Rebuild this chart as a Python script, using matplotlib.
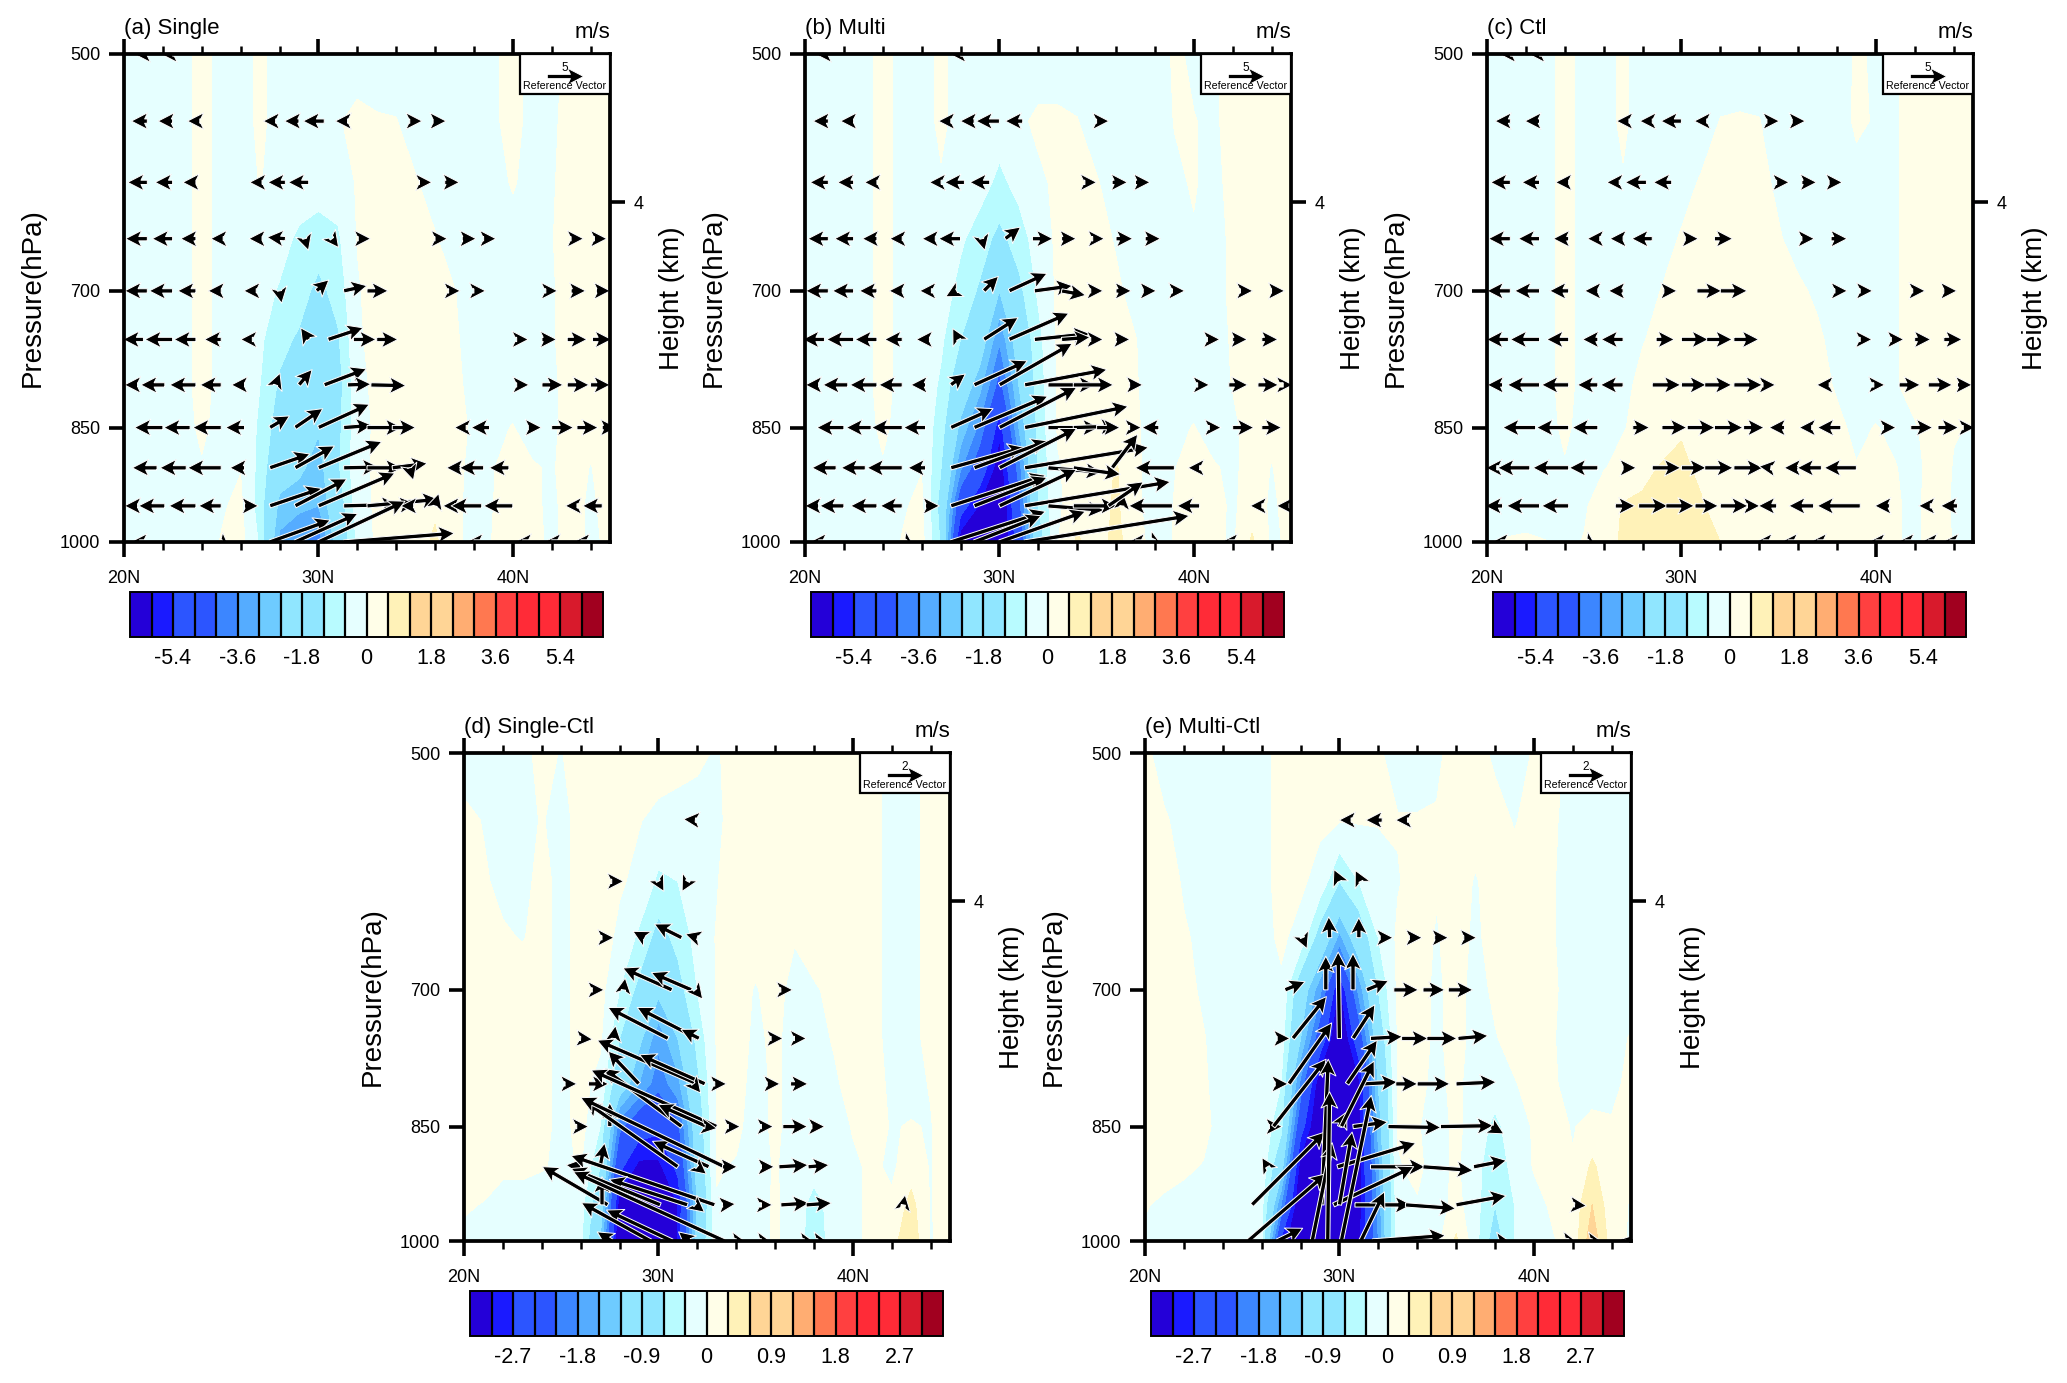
import numpy as np
import matplotlib
matplotlib.use("Agg")
import matplotlib.pyplot as plt
from matplotlib.colors import ListedColormap, BoundaryNorm
from matplotlib.patches import Rectangle
from matplotlib.ticker import NullLocator

plt.rcParams['font.family'] = ['Liberation Sans', 'DejaVu Sans']

lats = list(range(20, 46))
plevs = [500, 550, 600, 650, 700, 750, 800, 850, 900, 950, 1000]

field_a = [
 [-.3,-.3,-.3,-.2,.2,-.2,-.2,.1,-.2,-.3,-.3,-.3,-.3,-.3,-.3,-.3,-.3,-.3,-.3,-.1,.2,-.2,-.2,.2,.2,.2],
 [-.3,-.3,-.3,-.2,.2,-.2,-.2,.1,-.2,-.3,-.3,-.05,.15,.05,.02,-.3,-.3,-.3,-.3,-.1,.2,-.2,-.1,.2,.2,.2],
 [-.3,-.3,-.3,-.2,.2,-.2,-.2,.02,-.2,-.3,-.35,-.3,.05,.2,.2,.05,-.3,-.3,-.3,-.2,.05,-.2,-.05,.2,.2,.2],
 [-.3,-.3,-.3,-.2,.2,-.2,-.2,-.2,-.4,-.7,-.85,-.7,.02,.2,.2,.2,.05,-.3,-.3,-.3,-.2,-.2,-.02,.2,.2,.2],
 [-.3,-.3,-.3,-.2,.2,-.2,-.2,-.4,-.65,-.9,-1.4,-.95,-.05,.2,.2,.2,.2,.02,-.3,-.3,-.2,-.2,-.05,.2,.2,.2],
 [-.3,-.3,-.3,-.2,.2,-.2,-.2,-.5,-1.0,-1.3,-1.6,-1.3,-.1,.2,.2,.2,.2,.1,-.3,-.3,-.2,-.2,-.05,.2,.2,.2],
 [-.3,-.3,-.3,-.2,.2,-.2,-.2,-.6,-1.3,-1.5,-2.0,-1.5,-.2,.15,.2,.2,.2,.15,-.2,-.3,-.2,-.2,-.1,.2,.2,.2],
 [-.3,-.3,-.3,-.2,.1,-.2,-.2,-.7,-1.6,-1.9,-2.3,-1.4,-.25,.1,.2,.2,.2,.2,-.1,-.1,.02,-.2,-.1,.2,.15,.2],
 [-.3,-.3,-.3,-.2,-.05,-.2,-.02,-.8,-2.0,-2.2,-2.8,-1.3,-.2,.1,.2,.2,.3,.2,-.2,-.02,.2,.05,-.05,.2,-.02,.2],
 [-.3,-.3,-.3,-.3,-.2,-.05,.1,-.9,-2.6,-2.9,-3.0,-1.7,-.3,.1,.2,.3,.5,.2,-.3,.0,.2,.1,-.1,.2,-.1,.2],
 [-.3,-.3,-.3,-.3,-.2,.02,.2,-.7,-3.2,-3.4,-4.0,-2.0,-.5,.1,.2,.35,.7,.15,-.2,.02,.2,.15,-.1,.2,-.1,.1],
]
field_b = [
 [-.3,-.3,-.3,-.2,.2,-.2,-.2,.1,-.2,-.3,-.3,-.3,-.3,-.3,-.3,-.3,-.3,-.3,-.4,.1,-.1,-.1,.2,.2,.2,.2],
 [-.3,-.3,-.3,-.2,.2,-.2,-.2,.1,-.2,-.3,-.3,-.1,.1,.1,.02,-.3,-.3,-.3,-.3,.02,.02,-.1,.2,.2,.2,.2],
 [-.3,-.3,-.3,-.2,.2,-.2,-.2,-.05,-.3,-.35,-.75,-.4,-.1,.1,.2,.05,-.3,-.3,-.3,-.1,.05,-.2,.2,.2,.2,.2],
 [-.3,-.3,-.3,-.2,.2,-.2,-.2,-.2,-.5,-.9,-1.4,-.9,-.3,.1,.2,.2,-.05,-.3,-.3,-.3,-.05,-.2,.1,.2,.2,.2],
 [-.3,-.3,-.3,-.2,.2,-.2,-.2,-.3,-.8,-1.3,-2.4,-1.4,-.5,.1,.2,.2,.1,-.2,-.3,-.3,-.2,-.2,.1,.2,.2,.2],
 [-.3,-.3,-.3,-.2,.2,-.2,-.2,-.5,-1.2,-1.9,-3.5,-1.9,-.8,.1,.2,.2,.2,.02,-.3,-.3,-.2,-.2,.05,.2,.2,.2],
 [-.3,-.3,-.3,-.2,.2,-.2,-.2,-.7,-1.8,-2.8,-4.5,-2.4,-.9,.05,.2,.2,.2,.05,-.3,-.3,-.2,-.2,.02,.2,.2,.2],
 [-.3,-.3,-.3,-.2,.1,-.2,-.2,-.9,-2.6,-3.8,-5.8,-3.0,-1.0,.05,.2,.2,.2,.1,-.3,-.1,.02,-.2,-.1,.2,.1,.2],
 [-.3,-.3,-.3,-.2,-.05,-.2,-.02,-1.2,-3.5,-4.8,-6.5,-3.9,-1.1,-.05,.2,.2,.65,.15,-.3,-.02,.2,.05,-.1,.2,-.02,.2],
 [-.3,-.3,-.3,-.3,-.2,-.05,.1,-1.5,-5.0,-6.1,-7.0,-4.5,-1.2,-.1,.3,.3,.7,.15,-.3,.02,.2,.2,-.1,.3,-.1,.2],
 [-.3,-.3,-.3,-.3,-.2,.02,.2,-1.3,-6.5,-7.0,-7.0,-5.0,-1.7,-.02,.7,.3,.8,.2,-.2,.02,.2,.15,-.1,.7,-.1,.1],
]
field_c = [
 [-.3,-.3,-.3,-.2,.2,-.2,-.4,.2,-.5,-.3,-.3,-.3,-.3,-.3,-.3,-.3,-.3,-.3,-.4,.1,-.1,-.05,.2,.2,.2,.2],
 [-.3,-.3,-.3,-.2,.2,-.2,-.4,.2,-.5,-.3,-.3,-.3,.02,.05,.02,-.3,-.3,-.3,-.3,.1,-.05,-.05,.2,.2,.2,.2],
 [-.3,-.3,-.3,-.2,.2,-.2,-.2,-.1,-.2,-.3,-.2,.05,.2,.2,.15,-.1,-.3,-.3,-.3,-.2,-.2,-.05,.2,.2,.2,.2],
 [-.3,-.3,-.3,-.2,.2,-.2,-.2,-.2,-.2,-.2,.05,.2,.2,.2,.2,.05,-.2,-.3,-.3,-.2,-.2,-.05,.2,.2,.2,.2],
 [-.3,-.3,-.3,-.2,.2,-.2,-.2,-.3,-.2,.02,.2,.2,.2,.2,.2,.2,.1,-.1,-.3,-.2,-.2,-.05,.2,.2,.2,.2],
 [-.3,-.3,-.3,-.2,.2,-.2,-.2,-.3,-.02,.1,.2,.2,.2,.2,.2,.2,.2,.1,-.2,-.2,-.2,-.05,.2,.2,.2,.2],
 [-.3,-.3,-.3,-.2,.2,-.2,-.2,-.1,.1,.2,.2,.2,.2,.2,.2,.2,.2,.15,-.05,-.3,-.2,-.05,.2,.2,.2,.2],
 [-.3,-.3,-.3,-.2,.1,-.2,-.2,-.02,.1,.3,.55,.2,.2,.2,.2,.2,.2,.2,.1,-.1,.02,-.1,-.05,.2,.02,-.02],
 [-.3,-.3,-.3,-.2,-.05,-.2,-.02,.1,.45,.65,.7,.5,.2,.2,.2,.2,.2,.2,.2,.02,.2,.02,-.15,.2,-.02,-.2],
 [-.3,-.3,-.3,-.3,-.2,-.05,.2,.65,.7,.75,.75,.65,.4,.2,.2,.2,.2,.2,.2,.2,.2,.05,-.1,.2,-.05,-.2],
 [-.1,.05,.1,.02,-.1,.02,.3,.7,.8,.8,.75,.7,.6,.2,.2,.2,.2,.2,.2,.2,.2,.05,-.1,.2,-.02,-.2],
]
field_d = [
 [-.2,-.2,-.2,-.1,.1,-.02,.2,.2,.2,.2,.2,.2,.1,-.05,.2,.2,.2,.2,.2,.2,.2,.1,-.1,-.1,.1,.2],
 [.1,-.02,-.2,-.1,.02,-.1,.1,.2,.1,.02,-.1,-.2,-.2,-.1,.2,.2,.2,.2,.2,.2,.2,.1,-.1,-.1,.1,.2],
 [.2,.05,-.1,-.1,.1,-.1,.1,.2,.05,-.1,-.35,-.3,-.2,-.02,.2,.2,.2,.2,.2,.2,.2,.1,-.1,-.1,.1,.2],
 [.2,.2,.05,-.02,.1,-.1,.1,.2,-.1,-.35,-.75,-.5,-.2,.02,.1,.1,.2,.02,.2,.2,.2,.1,-.1,-.1,.1,.2],
 [.2,.2,.2,.2,.1,-.1,.1,.1,-.3,-.7,-1.1,-.75,-.3,.02,.1,-.02,.1,-.1,-.05,.1,.1,.1,-.1,-.1,.1,.2],
 [.2,.2,.2,.2,.1,-.1,.1,.05,-.6,-1.1,-1.7,-1.2,-.5,.02,.1,-.05,.05,-.1,-.1,.02,.1,.1,-.1,-.1,.1,.2],
 [.2,.2,.2,.2,.1,-.1,.1,-.1,-.9,-1.5,-2.0,-1.6,-.7,.02,.1,-.1,.05,-.1,-.1,-.05,.1,.1,-.05,-.1,.02,.2],
 [.2,.2,.2,.2,.1,-.1,.1,-.3,-2.0,-2.5,-2.6,-2.2,-.9,.02,.05,-.1,.05,-.1,-.15,-.15,.02,.1,-.02,.02,-.02,.2],
 [.2,.2,.05,.05,.02,-.05,.02,-.6,-2.6,-3.1,-3.1,-2.6,-1.0,.02,-.02,-.1,.02,-.1,-.2,-.15,-.05,.05,-.05,.15,-.02,.2],
 [.05,-.02,-.1,-.1,-.15,-.15,-.2,-.9,-3.2,-3.5,-3.5,-3.0,-1.2,-.02,-.05,-.15,.05,-.15,-.4,-.2,-.1,.1,.05,.4,-.02,.2],
 [-.1,-.15,-.15,-.15,-.15,-.15,-.2,-1.2,-3.5,-3.5,-3.5,-3.0,-1.0,-.1,-.1,-.15,.05,-.15,-.45,-.2,-.1,.1,.2,.5,-.02,.1],
]
field_e = [
 [.1,-.2,-.2,-.2,-.2,-.2,-.1,.1,.1,.1,.1,.1,.05,-.15,-.15,-.05,.1,.1,-.05,-.1,.02,.1,-.1,-.2,-.2,-.2],
 [.2,.05,-.15,-.2,-.2,-.2,-.1,.1,.1,.05,.02,.02,.02,.02,.02,.02,.1,.1,.1,-.02,.1,.05,-.15,-.2,-.2,-.2],
 [.2,.2,-.05,-.2,-.2,-.2,-.1,.1,.05,-.1,-.6,-.3,-.15,-.02,.1,.02,.1,-.02,.1,.1,.1,.02,-.15,-.2,-.2,-.2],
 [.2,.2,.05,-.1,-.2,-.2,-.1,.05,-.1,-.8,-1.6,-.9,-.3,.05,.1,-.02,.1,-.05,.1,.1,.1,.02,-.15,-.2,-.2,-.2],
 [.2,.2,.1,-.05,-.2,-.2,-.1,-.05,-.9,-1.7,-3.1,-1.7,-.6,.05,.1,-.05,.1,-.1,.05,.1,.1,.05,-.15,-.15,-.15,-.1],
 [.2,.2,.1,.02,-.15,-.15,-.1,-.15,-1.2,-2.4,-3.5,-2.4,-.9,.02,.1,-.05,.1,-.1,-.02,.1,.1,.02,-.15,-.15,-.1,.02],
 [.2,.2,.15,.05,-.15,-.15,-.1,-.3,-1.9,-3.3,-3.5,-3.1,-1.2,.02,.05,-.05,.05,-.1,-.1,-.02,.1,.05,-.15,-.15,-.05,.05],
 [.2,.2,.2,.1,-.15,-.15,-.1,-.5,-2.5,-3.5,-3.5,-3.2,-1.4,.02,.02,-.1,.05,-.1,-.4,-.1,.02,.1,-.02,.1,.02,.05],
 [.1,.1,.05,-.02,-.15,-.15,-.1,-1.0,-3.2,-3.5,-3.5,-3.2,-1.6,-.02,.05,-.1,.05,-.2,-.5,-.2,.02,.1,.02,.35,.1,.02],
 [.02,-.05,-.1,-.15,-.15,-.15,-.2,-1.8,-3.5,-3.5,-3.5,-3.2,-1.7,-.1,-.02,-.15,.1,-.2,-.6,-.3,-.1,.05,.1,.6,.1,-.02],
 [-.05,-.1,-.15,-.15,-.15,-.15,-.25,-2.8,-3.5,-3.5,-3.5,-3.1,-1.8,-.1,-.05,-.1,.35,-.2,-.8,-.3,-.1,-.02,.1,.8,.15,-.05],
]

# vectors: pressure -> (tail lat, u, w)
vec_a = {
 500: [(21.2,-1.8,0),(22.5,-1.6,0)],
 550: [(21.2,-2.2,0),(22.5,-2.0,0),(23.9,-1.7,0),(27.8,-1.7,0),(29.0,-2.0,0),(30.3,-2.9,0),(31.5,-1.7,0),(34.7,1.7,0),(35.9,1.8,0)],
 600: [(21.2,-2.7,0),(22.5,-2.4,0),(23.7,-1.8,0),(27.1,-1.7,0),(28.3,-2.4,0),(29.5,-2.8,0),(35.2,1.7,0),(36.5,2.0,0)],
 650: [(21.2,-3.0,0),(22.5,-2.8,0),(23.7,-2.1,0),(25.1,-1.7,0),(27.1,-1.8,0),(28.3,-2.5,.2),(29.3,.5,-1.6),(30.7,.9,-1.2),(32.05,1.7,0),(36.0,1.7,0),(37.4,1.9,0),(38.5,1.7,0),(43.0,1.7,0),(44.2,1.7,0)],
 700: [(21.2,-3.1,0),(22.5,-3.2,0),(23.7,-2.5,0),(25.0,-1.8,0),(26.8,-1.7,0),(28.0,.3,-1.7),(29.9,1.7,1.5),(31.3,3.2,.7),(32.5,2.9,0),(36.7,1.6,0),(38.0,1.6,0),(41.7,1.6,0),(43.0,2.0,0),(44.3,1.9,0)],
 750: [(21.0,-2.8,0),(22.5,-3.8,0),(23.7,-3.0,0),(25.0,-2.3,0),(26.6,-1.6,0),(29.5,-1.1,1.6),(30.5,4.8,1.6),(31.8,3.1,0),(33.0,2.9,0),(40.2,1.6,0),(41.5,2.0,0),(42.8,2.7,0),(44.1,2.6,0)],
 800: [(20.7,-1.8,0),(22.1,-3.3,0),(23.7,-3.6,0),(25.0,-2.9,0),(26.2,-1.8,0),(27.8,.6,1.6),(29.0,1.8,2.1),(30.3,5.8,2.2),(31.5,3.2,.1),(32.7,4.8,-.1),(40.2,1.7,0),(41.5,2.9,0),(42.8,3.0,0),(44.0,2.7,0)],
 850: [(22.0,-3.9,0),(23.4,-3.6,0),(25.0,-3.9,0),(26.2,-2.6,0),(27.5,2.7,1.6),(28.8,3.8,2.6),(30.0,7.0,3.2),(31.3,3.9,.3),(32.5,4.8,0),(33.8,3.2,0),(37.6,-1.6,0),(38.8,-2.5,0),(40.8,1.8,0),(42.0,3.0,0),(43.3,2.9,0),(44.6,2.0,0)],
 900: [(21.7,-3.4,0),(23.2,-3.6,0),(25.0,-4.6,0),(26.2,-2.0,0),(27.5,5.5,1.9),(28.8,5.4,3.0),(30.0,8.7,3.6),(31.3,4.8,.1),(32.5,4.8,0),(33.8,4.8,.6),(34.7,.5,-1.7),(37.3,-1.9,0),(38.5,-3.3,0),(39.8,-2.7,0)],
 950: [(20.7,-1.8,0),(22.1,-3.6,0),(23.7,-3.7,0),(25.0,-3.1,0),(26.2,1.9,0),(27.5,7.1,2.4),(28.8,7.1,3.7),(30.0,10.5,4.5),(31.3,7.4,.2),(32.5,9.8,.9),(33.8,3.2,.3),(34.9,-1.8,0),(36.0,.5,1.7),(37.0,-1.6,0),(38.4,-4.2,0),(40.0,-4.0,0),(43.3,-1.6,0),(44.6,-2.7,0)],
 1000: [(20.8,-1.2,0),(25.0,1.2,-1.0),(27.5,8.3,3.0),(28.8,8.6,3.9),(30.0,11.9,5.6),(31.3,15.2,1.2),(38.0,-1,0),(40.5,-1,0),(42.0,-1,0),(43.5,-1,0)],
}
vec_b = {
 500: [(21.2,-1.8,0),(28.0,-1.5,0)],
 550: [(21.2,-2.1,0),(22.5,-1.8,0),(27.5,-1.7,0),(28.7,-1.9,0),(30.0,-3.2,0),(31.2,-2.4,0),(35.0,1.7,0)],
 600: [(21.2,-2.5,0),(22.5,-2.2,0),(23.7,-1.7,0),(27.0,-1.6,0),(28.2,-2.7,0),(29.5,-2.7,0),(34.4,1.6,0),(35.8,2.1,0),(37.0,2.0,0)],
 650: [(21.2,-2.8,0),(22.5,-2.6,0),(23.7,-2.0,0),(25.0,-1.7,0),(26.7,-1.8,0),(28.0,-3.0,0),(29.1,.4,-1.6),(30.3,2.1,1.6),(31.7,2.8,0),(33.2,2.0,0),(34.8,1.6,0),(36.0,2.3,0),(37.5,2.1,0)],
 700: [(21.2,-3.1,0),(22.5,-2.9,0),(23.7,-2.4,0),(25.0,-1.8,0),(26.5,-1.6,0),(27.8,-1.5,-.8),(29.2,2.0,2.0),(30.5,5.2,2.4),(31.8,5.2,.7),(33.2,3.3,-.6),(34.7,1.7,0),(36.0,2.1,0),(37.4,1.8,0),(38.9,1.7,0),(42.4,1.7,0),(44.0,1.8,0)],
 750: [(21.0,-3.0,0),(22.5,-3.7,0),(23.7,-3.0,0),(25.0,-2.4,0),(26.4,-1.8,0),(27.9,-.8,1.5),(29.2,4.7,3.0),(30.5,8.2,3.6),(31.8,7.6,.8),(33.2,3.9,.3),(34.7,1.7,0),(36.0,1.9,0),(40.7,1.7,0),(42.0,2.0,0),(43.5,2.2,0)],
 800: [(20.7,-1.8,0),(22.2,-3.4,0),(23.7,-3.7,0),(25.0,-3.2,0),(26.2,-2.0,0),(27.5,2.0,1.5),(28.7,7.3,3.3),(30.0,10.0,5.7),(31.3,11.3,2.1),(32.5,6.5,0),(33.8,5.5,0),(36.7,1.8,0),(40.2,1.6,0),(41.8,2.6,0),(43.3,2.8,0),(44.6,1.3,0)],
 850: [(22.0,-3.7,0),(23.4,-3.4,0),(25.0,-4.2,0),(26.2,-3.0,0),(27.5,5.8,2.6),(28.7,10.1,4.3),(30.0,10.6,5.5),(31.3,14.2,2.9),(32.5,7.0,0),(33.8,6.0,.2),(35.0,3.2,0),(36.7,1.6,0),(38.2,-2.3,0),(40.8,1.6,0),(42.0,2.9,0),(43.5,2.7,0)],
 900: [(21.6,-3.3,0),(23.1,-3.3,0),(25.0,-4.8,0),(26.2,-2.4,0),(27.5,10.1,2.8),(28.7,10.1,3.7),(30.0,10.6,5.4),(31.3,17.0,2.8),(32.5,7.4,-.6),(33.8,6.5,-.9),(35.8,3.5,4.6),(39.0,-5.4,0),(40.3,-1.6,0)],
 950: [(20.7,-1.9,0),(22.0,-3.3,0),(23.7,-3.6,0),(25.0,-3.0,0),(26.2,1.9,0),(27.5,13.0,4.2),(28.7,10.0,3.9),(30.0,10.6,5.0),(31.3,20.0,3.3),(32.5,7.7,-.6),(33.8,6.0,0),(36.3,.2,1.7),(35.6,4.8,3.3),(38.9,-6.0,0),(40.3,-3.1,0),(43.5,-1.6,0),(44.9,-1.7,0)],
 1000: [(20.7,-1.2,0),(25.2,1.2,-.8),(27.5,13.0,4.2),(28.7,9.2,3.6),(30.0,11.8,4.2),(31.3,22.6,3.6),(37.0,-1,0),(38.0,1,-.5),(41.8,-1,0)],
}
vec_c = {
 500: [(21.2,-1.5,0),(22.7,-1.5,0)],
 550: [(21.2,-2.1,0),(22.7,-2.0,0),(27.3,-1.7,0),(28.5,-1.7,0),(30.0,-2.8,0),(31.3,-1.7,0),(34.4,1.7,0),(35.7,1.8,0)],
 600: [(21.2,-2.7,0),(22.7,-2.4,0),(24.2,-1.8,0),(26.8,-1.7,0),(28.2,-2.9,0),(29.5,-2.5,0),(34.9,1.7,0),(36.2,2.0,0),(37.6,1.8,0)],
 650: [(21.2,-3.0,0),(22.7,-2.9,0),(24.2,-2.1,0),(25.8,-1.7,0),(27.0,-1.8,0),(28.5,-2.8,0),(30.2,1.8,0),(31.7,2.5,0),(36.2,1.7,0),(37.7,2.2,0)],
 700: [(21.2,-3.2,0),(22.7,-3.4,0),(24.2,-2.6,0),(25.7,-1.8,0),(27.0,-2.0,0),(29.1,1.8,0),(30.8,3.4,0),(32.0,3.7,0),(37.9,1.7,0),(39.2,1.7,0),(41.9,1.7,0),(43.5,1.8,0)],
 750: [(21.1,-3.0,0),(22.7,-4.0,0),(24.2,-3.0,0),(25.7,-2.1,0),(27.0,-3.0,0),(28.7,2.5,0),(30.0,3.7,0),(31.3,3.5,0),(32.7,3.4,0),(39.2,1.6,0),(40.8,1.7,0),(42.0,2.2,0),(43.5,2.5,0)],
 800: [(20.8,-2.1,0),(22.7,-4.4,0),(24.2,-3.7,0),(25.7,-2.8,0),(27.0,-3.1,0),(28.5,3.9,0),(30.0,3.4,0),(31.2,3.7,0),(32.7,3.9,0),(34.2,1.7,0),(37.6,-1.7,0),(39.9,1.5,0),(41.2,2.9,0),(42.7,3.3,0),(44.2,2.0,0)],
 850: [(22.5,-4.5,0),(24.2,-4.4,0),(25.7,-3.5,0),(27.5,2.3,0),(29.0,3.4,0),(30.3,3.8,0),(31.7,3.9,0),(33.2,2.8,0),(35.3,-2.1,0),(36.7,-1.7,0),(38.2,-3.2,0),(40.4,1.7,0),(41.8,3.0,0),(43.2,2.8,0),(44.5,1.6,0)],
 900: [(20.5,-1.5,0),(22.2,-4.4,0),(24.2,-4.9,0),(25.7,-3.9,0),(27.0,1.8,0),(28.5,3.9,0),(30.0,3.4,0),(31.2,3.9,0),(32.7,4.0,0),(34.6,-1.6,.2),(36.0,-1.9,0),(37.2,-3.3,0),(39.0,-4.4,0)],
 950: [(20.8,-2.4,0),(22.7,-4.5,0),(24.2,-3.7,0),(26.6,2.7,0),(27.8,4.0,0),(29.2,3.9,0),(30.7,3.2,0),(32.0,3.8,0),(33.4,1.7,0),(34.9,-2.5,0),(36.8,-3.4,0),(39.2,-5.9,0),(40.7,-2.0,0),(42.8,-1.6,0),(44.2,-2.3,0)],
 1000: [(20.7,-1.2,0),(25.2,1.2,-.8),(34.2,-1,0),(35.5,-1,0),(37.0,-1,0),(40.0,-1,0),(41.5,-1,0),(42.7,-1,0),(43.8,-1,0)],
}
vec_d = {
 550: [(31.9,-.65,.05)],
 600: [(27.6,.65,0),(30.0,.3,-.55),(31.5,-.3,-.55)],
 650: [(27.1,.65,0),(29.3,-.65,.35),(31.2,-1.5,.75),(32.0,-.65,.2)],
 700: [(26.6,.65,0),(28.2,.1,.65),(30.7,-2.7,1.2),(31.7,-2.2,.95),(31.9,.4,-.5),(36.3,.65,0)],
 750: [(26.0,.65,-.05),(27.7,.1,.7),(30.5,-3.3,1.7),(32.0,-3.3,1.7),(32.1,-1.0,.5),(35.8,.65,0),(37.0,.65,0)],
 800: [(25.2,.65,0),(26.4,1.1,0),(29.0,-1.7,1.8),(32.0,-5.5,2.4),(32.4,-3.6,1.6),(31.8,.4,-.5),(32.9,.65,0),(35.6,.7,0),(36.8,.95,0)],
 850: [(25.8,.65,0),(27.5,0,1.3),(31.2,-4.3,3.2),(33.0,-6.9,3.1),(32.5,-2.7,1.2),(32.4,.65,-.1),(33.6,.65,0),(35.3,.65,0),(36.4,1.35,0),(37.9,.7,0)],
 900: [(27.0,.25,1.3),(32.6,-3.1,1.4),(31.0,-5.1,3.6),(33.4,-7.9,3.8),(32.0,.5,-.4),(26.0,-.8,.1),(33.3,.8,0),(35.3,.7,0),(36.2,1.6,.1),(37.7,1.15,.1)],
 950: [(27.4,-3.6,2.1),(32.9,-7.9,2.7),(27.1,0,1.55),(31.5,-4.3,1.4),(30.1,-4.9,2.0),(33.3,.7,.05),(35.3,.6,0),(36.3,1.55,.1),(37.6,1.4,.1),(42.6,.1,.55),(31.9,.5,-.4)],
 1000: [(33.4,-8.3,3.8),(27.6,-.8,.5),(30.7,-3.6,1.7),(29.6,-3.8,2.1),(31.6,-.6,.5),(34.0,.6,-.1),(35.3,.6,-.1),(37.5,.6,-.1),(38.2,.6,-.1)],
}
vec_e = {
 550: [(30.6,-.65,0),(32.2,-.9,0),(33.5,-.65,0)],
 600: [(30.0,-.3,.65),(31.1,-.3,.6)],
 650: [(28.1,.25,-.6),(29.5,-.05,1.15),(31.0,0,1.1),(32.1,.7,0),(33.6,.7,0),(34.9,.75,0),(36.4,.7,0)],
 700: [(27.2,1.1,.45),(29.3,0,1.85),(30.7,0,2.0),(31.4,1.2,.5),(32.8,1.35,0),(34.3,1.2,0),(35.6,1.35,0)],
 750: [(26.8,.7,0),(27.6,1.85,2.3),(30.0,-.07,4.75),(30.7,1.2,1.85),(31.6,1.75,.1),(33.2,1.45,0),(34.5,1.65,0),(36.1,1.65,.15)],
 800: [(26.7,.7,0),(27.4,2.35,3.35),(30.4,1.65,2.4),(31.2,1.9,.1),(32.9,1.2,0),(34.0,1.8,0),(36.0,2.2,.1)],
 850: [(26.4,.7,0),(26.6,2.9,3.7),(30.0,.4,.8),(30.1,1.8,3.6),(30.7,1.9,.25),(32.5,2.9,-.05),(35.2,2.9,.05),(37.8,.7,-.4)],
 900: [(26.3,-.3,.5),(29.9,4.3,1.3),(31.6,3.0,0),(34.3,2.75,-.2),(36.9,1.8,.35)],
 950: [(25.5,4.0,4.0),(29.7,4.4,2.1),(30.8,3.1,0),(33.4,2.75,-.2),(36.0,2.75,.5),(29.1,.35,8.0),(30.0,.7,4.0),(42.1,.65,-.05)],
 1000: [(25.3,4.3,3.7),(26.8,1.4,.7),(28.6,1.1,5.4),(29.4,.1,8.2),(30.1,1.65,8.0),(31.1,1.3,2.7),(31.7,4.0,.3),(38.2,.7,-.1),(43.0,.6,-.1),(41.8,.5,-.1),(44.8,.3,.3)],
}

colors = ['#2400d8','#1a1aff','#2c55ff','#2c55ff','#3c86ff','#55acff','#6ecbff','#90e6ff','#90e6ff','#b8fbff','#e6ffff',
          '#fffee8','#fff2b8','#ffd596','#ffd596','#ffad72','#ff7850','#ff4040','#ff2b37','#ff2b37','#d81a2c','#a1001f']
levels_top = [round(-6 + .6*i, 1) for i in range(21)]
levels_bot = [round(-3 + .3*i, 1) for i in range(21)]
ticks_top = [-5.4, -3.6, -1.8, 0, 1.8, 3.6, 5.4]
ticks_bot = [-2.7, -1.8, -.9, 0, .9, 1.8, 2.7]

W, H = 2067, 1383
fig = plt.figure(figsize=(W/100, H/100), dpi=100, facecolor='white')
cmap = ListedColormap(colors)
ARROW_PX = 36.4

def fx(px): return px/W
def fy(px): return 1 - px/H

panels = [
 ('(a) Single', field_a, vec_a, 124, 54, levels_top, ticks_top, 5),
 ('(b) Multi', field_b, vec_b, 805, 54, levels_top, ticks_top, 5),
 ('(c) Ctl', field_c, vec_c, 1487, 54, levels_top, ticks_top, 5),
 ('(d) Single-Ctl', field_d, vec_d, 464, 753, levels_bot, ticks_bot, 2),
 ('(e) Multi-Ctl', field_e, vec_e, 1145, 753, levels_bot, ticks_bot, 2),
]
AW, AH = 486, 488
for title, field, vec, x0, y0, levels, cticks, ref in panels:
    ax = fig.add_axes([fx(x0), fy(y0+AH), AW/W, AH/H])
    norm = BoundaryNorm(levels, ncolors=22, extend='both')
    cf = ax.contourf(lats, plevs, np.array(field), levels=levels, cmap=cmap, norm=norm, extend='both')
    ax.set_yscale('log')
    ax.set_ylim(1000, 500)
    ax.set_xlim(20, 45)
    P, LA, U, V = [], [], [], []
    for p, rows in vec.items():
        for la, u, w in rows:
            P.append(p); LA.append(la); U.append(u); V.append(w)
    q = ax.quiver(LA, P, U, V, angles='uv', pivot='tail', units='dots', width=4.3,
                  scale_units='dots', scale=ref/ARROW_PX, headwidth=3.9, headlength=3.8,
                  headaxislength=3.1, minshaft=.4, minlength=.3, color='k',
                  edgecolor='white', linewidth=.7, zorder=3)
    ax.set_xticks([20, 30, 40])
    ax.set_xticklabels(['20N', '30N', '40N'])
    ax.set_xticks([22,24,26,28,32,34,36,38,42,44], minor=True)
    ax.yaxis.set_major_locator(plt.FixedLocator([500, 700, 850, 1000]))
    ax.yaxis.set_minor_locator(NullLocator())
    ax.set_yticklabels(['500', '700', '850', '1000'])
    ax.tick_params(axis='x', which='major', length=11, width=2.6, top=True, labelsize=13, pad=9)
    ax.tick_params(axis='x', which='minor', length=5.5, width=1.8, top=True)
    ax.tick_params(axis='y', which='major', length=11, width=2.6, labelsize=13, pad=6)
    for s in ax.spines.values():
        s.set_linewidth(2.7); s.set_zorder(5)
    ax.text(-.0, 1.03, title, transform=ax.transAxes, fontsize=16, ha='left', va='bottom')
    ax.text(1.0, 1.022, 'm/s', transform=ax.transAxes, fontsize=16, ha='right', va='bottom')
    ax.set_ylabel('Pressure(hPa)', fontsize=20)
    ax.yaxis.set_label_coords(-.16, .5)

    ax2 = ax.twinx()
    ax2.set_yscale('log'); ax2.set_ylim(1000, 500)
    ax2.yaxis.set_major_locator(plt.FixedLocator([617]))
    ax2.yaxis.set_minor_locator(NullLocator())
    ax2.set_yticklabels(['4'])
    ax2.tick_params(axis='y', length=11, width=2.6, labelsize=13, pad=6)
    for s in ax2.spines.values():
        s.set_visible(False)
    ax2.set_ylabel('Height (km)', fontsize=20, rotation=90)
    ax2.yaxis.set_label_coords(1.10, .5)

    # reference vector annotation
    box = Rectangle((.815, .919), .185, .081, transform=ax.transAxes, facecolor='white',
                    edgecolor='k', linewidth=1.6, zorder=6)
    ax.add_patch(box)
    key = ax.quiverkey(q, .9075, .955, ref, str(ref), coordinates='axes', labelpos='N', labelsep=.015,
                       fontproperties={'size': 8.5}, zorder=7)
    ax.text(.9075, .924, 'Reference Vector', transform=ax.transAxes, fontsize=7.7, ha='center', va='bottom', zorder=7)

    cax = fig.add_axes([fx(x0+6), fy(y0+538+45), 473/W, 45/H])
    cb = fig.colorbar(cf, cax=cax, orientation='horizontal', extend='both', extendrect=True,
                      extendfrac=1/20, spacing='uniform', drawedges=True)
    cb.set_ticks(cticks)
    cb.set_ticklabels([('%g' % t) for t in cticks])
    cb.ax.tick_params(length=0, labelsize=15.5, pad=8)
    cb.ax.minorticks_off()
    cb.dividers.set_color('k'); cb.dividers.set_linewidth(1.6)
    cb.outline.set_linewidth(1.4)

fig.savefig('out.png', dpi=100)
